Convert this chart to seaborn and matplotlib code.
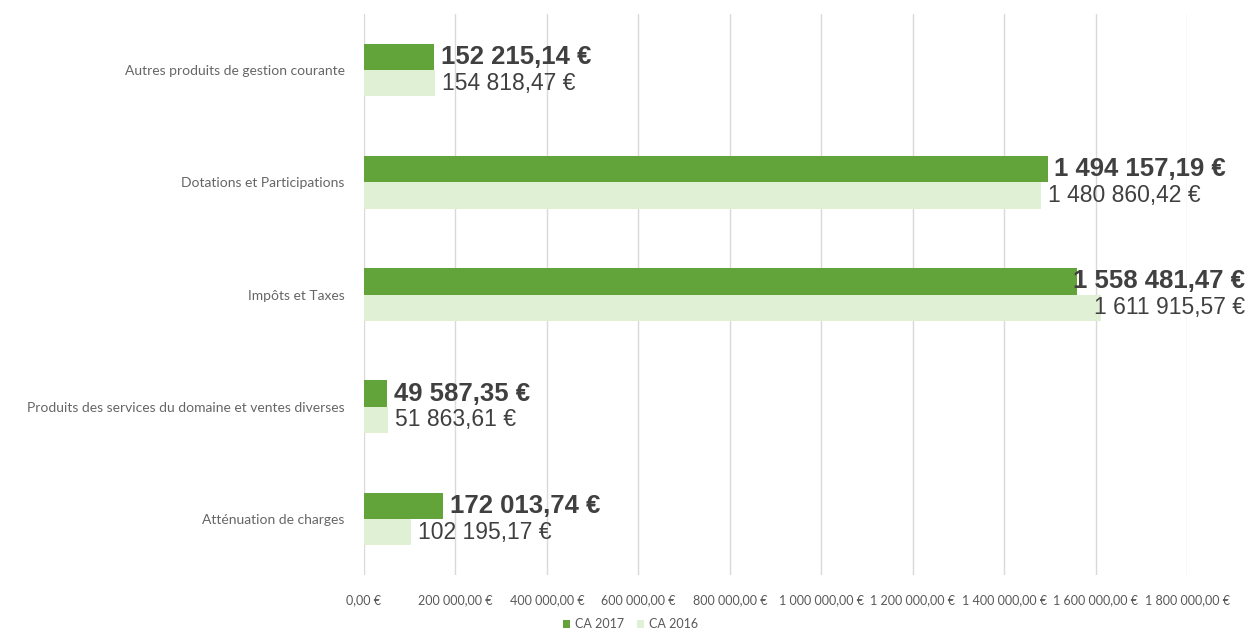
import matplotlib
matplotlib.use("Agg")
import matplotlib.pyplot as plt
import matplotlib.ticker as mticker
import pandas as pd
import seaborn as sns

# === Data ===
categories = [
    "Autres produits de gestion courante",
    "Dotations et Participations",
    "Impôts et Taxes",
    "Produits des services du domaine et ventes diverses",
    "Atténuation de charges",
]
series_names = ["CA 2017", "CA 2016"]
ca_2017 = [152215.14, 1494157.19, 1558481.47, 49587.35, 172013.74]
ca_2016 = [154818.47, 1480860.42, 1611915.57, 51863.61, 102195.17]
x_ticks = [0, 200000, 400000, 600000, 800000, 1000000, 1200000, 1400000, 1600000, 1800000]

DARK = "#63A43A"
LIGHT = "#DFF0D5"
TXT = "#404040"
GREY = "#595959"


def euro(v):
    s = f"{v:,.2f}".replace(",", " ").replace(".", ",")
    return s + " €"


df = pd.DataFrame({
    "categorie": categories * 2,
    "montant": ca_2017 + ca_2016,
    "serie": [series_names[0]] * len(categories) + [series_names[1]] * len(categories),
})

sns.set_style("white")
plt.rcParams["font.family"] = ["Liberation Sans", "DejaVu Sans"]

fig = plt.figure(figsize=(12.49, 6.32), dpi=100)
ax = fig.add_axes([0.2914, 0.090, 0.6593, 0.888])

sns.barplot(data=df, y="categorie", x="montant", hue="serie", orient="h",
            palette=[DARK, LIGHT], width=0.47, gap=0, saturation=1,
            errorbar=None, linewidth=0, ax=ax, zorder=3)

ax.set_xlim(0, 1800000)
ax.set_xticks(x_ticks)
ax.xaxis.set_major_formatter(mticker.FuncFormatter(lambda v, p: euro(v)))
ax.grid(axis="x", color="#D9D9D9", linewidth=1, zorder=0)
ax.set_axisbelow(True)
for sp in ax.spines.values():
    sp.set_visible(False)
ax.set_xlabel("")
ax.set_ylabel("")
ax.tick_params(axis="both", length=0)
ax.tick_params(axis="x", pad=14)
ax.tick_params(axis="y", pad=14)
for lab in ax.get_xticklabels():
    lab.set_fontfamily(["Lato", "DejaVu Sans"])
    lab.set_fontsize(9)
    lab.set_color(GREY)
for lab in ax.get_yticklabels():
    lab.set_fontfamily(["Lato", "DejaVu Sans"])
    lab.set_fontsize(10)
    lab.set_color("#666666")

# === value labels ===
notes = []
for i, cont in enumerate(ax.containers):
    for bar in cont:
        v = bar.get_width()
        yc = bar.get_y() + bar.get_height() / 2
        if i == 0:
            t = ax.annotate(euro(v), xy=(v, yc), xytext=(5, 0), textcoords="offset points",
                            ha="left", va="center", fontsize=18.5, fontweight="bold",
                            color=TXT, annotation_clip=False, zorder=5)
        else:
            t = ax.annotate(euro(v), xy=(v, yc), xytext=(5, 0), textcoords="offset points",
                            ha="left", va="center", fontsize=16.5,
                            color=TXT, annotation_clip=False, zorder=5)
        notes.append(t)

# pousser les étiquettes qui débordent à gauche
fig.canvas.draw()
W = fig.bbox.width
for t in notes:
    ext = t.get_window_extent()
    if ext.x1 > W - 4:
        shift = (ext.x1 - (W - 4)) * 72 / fig.dpi
        t.xyann = (5 - shift, 0)

handles, labels = ax.get_legend_handles_labels()
ax.get_legend().remove()
leg = fig.legend(handles, labels, loc="center", bbox_to_anchor=(0.505, 0.012),
                 ncol=2, frameon=False, handlelength=0.6, handleheight=0.6,
                 handletextpad=0.4, columnspacing=1.0, borderpad=0,
                 prop={"family": ["Lato", "DejaVu Sans"], "size": 9})
for txt in leg.get_texts():
    txt.set_color(GREY)

fig.savefig("out.png", dpi=100)
